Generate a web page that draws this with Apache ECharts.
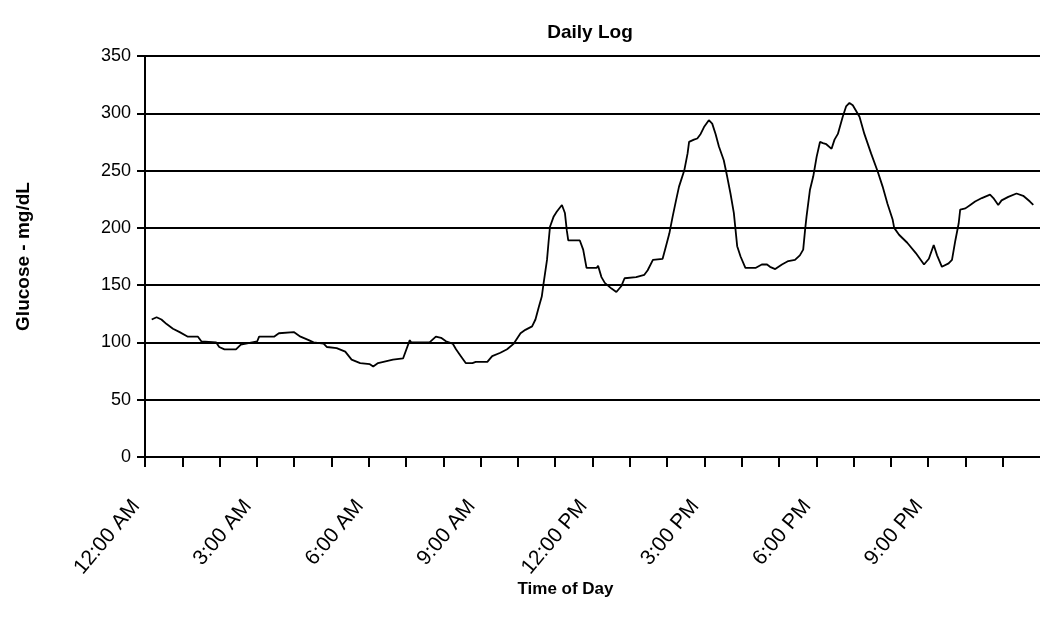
<!DOCTYPE html>
<html>
<head>
<meta charset="utf-8">
<script src="https://cdn.jsdelivr.net/npm/echarts@6/dist/echarts.min.js"></script>
<style>
html,body{margin:0;padding:0;background:#fff;}
#chart{width:1040px;height:629px;}
</style>
</head>
<body>
<div id="chart"></div>
<script>
// Time of day in hours (0 = 12:00 AM)
const hours = [
  0.18,0.31,0.44,0.58,0.75,0.93,1.15,1.42,1.51,1.91,1.99,2.13,2.44,2.57,3.01,3.06,3.46,3.59,3.99,
  4.17,4.39,4.52,4.79,4.88,5.14,5.37,5.54,5.77,6.03,6.12,6.25,6.65,6.92,7.10,7.14,7.63,7.80,7.94,8.07,8.25,
  8.34,8.47,8.60,8.78,8.87,9.18,9.31,9.53,9.71,9.89,10.07,10.20,10.38,10.47,10.56,10.64,10.69,10.78,10.82,10.86,
  10.96,11.04,11.18,11.26,11.31,11.35,11.66,11.75,11.84,12.11,12.15,12.24,
  12.33,12.51,12.64,12.77,12.86,13.17,13.39,13.48,13.62,13.88,13.97,14.06,14.15,14.24,14.32,14.46,14.55,14.59,
  14.72,14.81,14.90,14.99,15.12,15.21,15.30,15.39,15.52,15.61,15.70,15.79,15.88,15.97,16.10,16.23,
  16.37,16.54,16.68,16.76,16.90,17.08,17.25,17.43,17.56,17.65,17.70,17.74,17.83,17.92,18.01,18.10,18.18,18.27,
  18.41,18.49,18.58,18.71,18.80,18.89,18.98,19.16,19.29,19.47,19.65,19.78,19.91,20.05,20.09,
  20.22,20.44,20.67,20.89,21.02,21.15,21.24,21.37,21.55,21.64,21.73,21.82,21.86,22.00,22.13,22.26,22.44,22.66,
  22.75,22.88,22.97,23.15,23.37,23.55,23.73,23.82
];
// Glucose (mg/dL)
const glucose = [
  120,122,120,116,112,109,105,105,101,100,96,94,94,98,101,105,105,108,109,
  105,102,100,99,96,95,92,85,82,81,79,82,85,86,102,100,100,105,104,101,99,
  94,88,82,82,83,83,88,91,94,99,108,111,114,120,131,140,152,172,187,201,
  210,214,220,213,198,189,189,181,165,165,167,157,
  152,147,144,149,156,157,159,163,172,173,184,195,210,224,236,250,265,275,
  277,278,282,288,294,291,282,271,259,245,230,213,184,175,165,165,
  165,168,168,166,164,168,171,172,176,181,198,210,233,245,262,275,274,273,
  269,277,282,297,306,309,307,297,282,265,249,236,221,207,200,
  194,187,178,168,173,185,176,166,169,172,189,204,216,217,220,223,226,229,
  226,220,224,227,230,228,223,220
];
const tickLabels = ['12:00 AM','3:00 AM','6:00 AM','9:00 AM','12:00 PM','3:00 PM','6:00 PM','9:00 PM'];
const yTicks = [0,50,100,150,200,250,300,350];

const seriesData = hours.map((h, i) => [h, glucose[i]]);
const FONT = '"Liberation Sans", Arial, sans-serif';

const chart = echarts.init(document.getElementById('chart'), null, {renderer: 'canvas'});
chart.setOption({
  animation: false,
  backgroundColor: '#ffffff',
  title: {
    text: 'Daily Log',
    left: 590,
    top: 23,
    padding: 0,
    textAlign: 'center',
    textStyle: {fontFamily: FONT, fontSize: 19, fontWeight: 'bold', color: '#000'}
  },
  grid: {left: 145, right: -7, top: 56, bottom: 172},
  xAxis: {
    type: 'value',
    min: 0,
    max: 24,
    interval: 1,
    name: 'Time of Day',
    nameLocation: 'middle',
    nameGap: 124,
    nameMoveOverlap: false,
    nameTextStyle: {fontFamily: FONT, fontSize: 17, fontWeight: 'bold', color: '#000', padding: [0, 54, 0, 0]},
    axisLine: {show: true, lineStyle: {color: '#000', width: 2}},
    axisTick: {show: true, length: 10, lineStyle: {color: '#000', width: 2}},
    splitLine: {show: false},
    axisLabel: {
      rotate: 50,
      margin: 35,
      padding: [0, 14, 0, 0],
      fontFamily: FONT,
      fontSize: 21,
      color: '#000',
      showMaxLabel: false,
      formatter: function (v) {
        if (Math.abs(v % 3) < 1e-9 && v / 3 < tickLabels.length) return tickLabels[v / 3];
        return '';
      }
    }
  },
  yAxis: {
    type: 'value',
    min: yTicks[0],
    max: yTicks[yTicks.length - 1],
    interval: 50,
    name: 'Glucose - mg/dL',
    nameLocation: 'middle',
    nameGap: 112,
    nameTextStyle: {fontFamily: FONT, fontSize: 19, fontWeight: 'bold', color: '#000'},
    axisLine: {show: true, lineStyle: {color: '#000', width: 2}},
    axisTick: {show: true, length: 8, lineStyle: {color: '#000', width: 2}},
    splitLine: {show: true, lineStyle: {color: '#000', width: 2}},
    axisLabel: {margin: 14, fontFamily: FONT, fontSize: 18, color: '#000'}
  },
  series: [{
    type: 'line',
    data: seriesData,
    showSymbol: false,
    symbol: 'none',
    lineStyle: {color: '#000', width: 1.8},
    clip: true
  }]
});
</script>
</body>
</html>
